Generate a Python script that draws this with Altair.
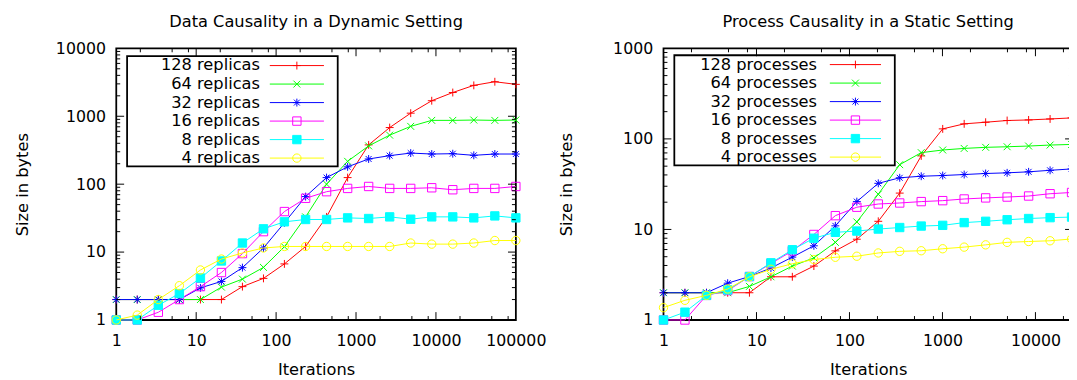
import altair as alt
import pandas as pd

FONT = "DejaVu Sans"

# ---------------- Data Causality in a Dynamic Setting ----------------
dyn_iterations = [1, 1.83, 3.36, 6.16, 11.3, 20.7, 37.9, 69.5, 127, 234, 428, 785,
                  1438, 2637, 4833, 8859, 16238, 29764, 54556, 100000]
dyn_names = ["128 replicas", "64 replicas", "32 replicas", "16 replicas", "8 replicas", "4 replicas"]
dyn_128 = [2, 2, 2, 2, 2, 2, 3.1, 4.1, 6.7, 12.1, 33, 125, 379, 682, 1111, 1693, 2236, 2851, 3224, 2951]
dyn_64 = [2, 2, 2, 2, 2, 3.05, 4.0, 5.95, 12.0, 33, 100, 217, 366, 527, 710, 870, 870, 880, 870, 880]
dyn_32 = [2, 2, 2, 2, 2.97, 3.7, 5.9, 11.5, 27, 65.6, 125, 180, 235, 263, 287, 278, 281, 266, 278, 278]
dyn_16 = [1, 1, 1.3, 2, 3.1, 5.0, 9.5, 20, 39.5, 62, 77.5, 86.6, 92.5, 86.6, 86.6, 88.5, 82.8, 86.6, 86.6, 92.5]
dyn_8 = [1, 1, 1.65, 2.45, 4.15, 7.4, 13.6, 22, 27.9, 30.2, 30.2, 31.9, 31.2, 33, 30.5, 33, 33, 31.9, 34.1, 31.9]
dyn_4 = [1, 1.18, 2, 3.2, 5.45, 7.9, 9.7, 11.5, 12.1, 12.1, 12.1, 12.1, 12.1, 12.1, 13.6, 13.1, 13.1, 13.6, 14.8, 14.8]

# ---------------- Process Causality in a Static Setting ----------------
sta_iterations = [1, 1.7, 2.9, 4.9, 8.4, 14.3, 24.3, 41.4, 70.5, 120, 204, 347,
                  591, 1006, 1712, 2914, 4960, 8443, 14370, 24460]
sta_names = ["128 processes", "64 processes", "32 processes", "16 processes", "8 processes", "4 processes"]
sta_128 = [2, 2, 2, 2, 2, 3, 3, 3.94, 5.8, 7.8, 12.3, 25.2, 64.9, 129, 146.6, 152.8, 159.6, 162, 166, 170.6]
sta_64 = [2, 2, 2, 2, 2.35, 3.0, 3.94, 4.85, 7.2, 12.1, 24.5, 51.9, 70.5, 75.4, 78.5, 80.7, 81.9, 83.4, 85.5, 86.9]
sta_32 = [2, 2, 2, 2.55, 3.02, 3.75, 4.95, 6.6, 10.96, 20.3, 32.3, 37.2, 38.7, 39.4, 40.4, 41.5, 42.2, 43.3, 45, 46.6]
sta_16 = [1, 1, 1.87, 2.11, 3.02, 4.2, 5.8, 8.8, 14.2, 17.6, 19.1, 19.6, 20.3, 20.8, 21.7, 22.3, 22.8, 23.4, 24.8, 25.6]
sta_8 = [1, 1.22, 1.87, 2.15, 3.02, 4.28, 5.97, 8.0, 9.3, 9.6, 10.1, 10.5, 10.9, 11.1, 11.9, 12.3, 12.8, 13.2, 13.5, 13.7]
sta_4 = [1.37, 1.65, 1.87, 2.2, 3.0, 3.63, 4.18, 4.65, 4.93, 5.06, 5.5, 5.73, 5.82, 6.12, 6.38, 6.76, 7.2, 7.36, 7.5, 7.85]

# axis tick labels
dyn_xticks = [1, 10, 100, 1000, 10000, 100000]
dyn_yticks = [1, 10, 100, 1000, 10000]
sta_xticks = [1, 10, 100, 1000, 10000]
sta_yticks = [1, 10, 100, 1000]

series_colors = ["#ff0000", "#00ff00", "#0000ff", "#ff00ff", "#00ffff", "#ffff00"]
series_fills = ["transparent", "transparent", "transparent", "transparent", "#00ffff", "transparent"]
marker_kinds = ["plus", "cross", "star", "square", "square", "circle"]
marker_half = [0.8, 0.7, 0.8, 0.85, 0.85, 0.85]   # in units of 5 px (size 100)

LEG_SIZE = 324
LEG_U = (LEG_SIZE ** 0.5) / 2.0


def num(v):
    s = ("%.4f" % v).rstrip("0").rstrip(".")
    return "0" if s in ("-0", "") else s


def marker(kind, s, cx=0.0):
    a, b = num(s), num(-s)
    xa, xb = num(cx + s), num(cx - s)
    c = num(cx)
    if kind == "plus":
        return f"M{xb},0H{xa}M{c},{b}V{a}"
    if kind == "cross":
        return f"M{xb},{b}L{xa},{a}M{xb},{a}L{xa},{b}"
    if kind == "star":
        d, e = num(s * 0.75), num(-s * 0.75)
        xd, xe = num(cx + s * 0.75), num(cx - s * 0.75)
        return f"M{xb},0H{xa}M{c},{b}V{a}M{xe},{e}L{xd},{d}M{xe},{d}L{xd},{e}"
    if kind == "square":
        return f"M{xb},{b}H{xa}V{a}H{xb}Z"
    return f"M{xa},0A{a},{a},0,1,1,{xb},0A{a},{a},0,1,1,{xa},0Z"


def legend_shape(kind, s, shift, half_line, far):
    cx = shift / LEG_U
    return (f"M{num((shift - half_line) / LEG_U)},0H{num((shift + half_line) / LEG_U)}"
            + marker(kind, s * 5.0 / LEG_U, cx) + f"M{num((shift + far) / LEG_U)},0")


def minor_list(lo, hi, mults):
    out = []
    d = 1
    while d < hi:
        for m in mults:
            v = m * d
            if lo < v < hi:
                out.append(v)
        d *= 10
    return out


def panel(iterations, names, series, xdom, ydom, xticks, yticks, W, H, title, ytitle_pad, leg):
    rows = []
    for name, vals in zip(names, series):
        for x, v in zip(iterations, vals):
            rows.append({"iterations": x, "size": v, "series": name})
    df = pd.DataFrame(rows)

    xs = alt.Scale(type="log", domain=xdom, nice=False)
    ys = alt.Scale(type="log", domain=ydom, nice=False)
    common = dict(format="d", ticks=False, domain=False, grid=False, labelFont=FONT,
                  labelFontSize=16, labelColor="black",
                  labelFlush=False, labelOverlap=False, titleFont=FONT,
                  titleFontSize=16.5, titleFontWeight="normal", titleColor="black")
    xaxis = alt.Axis(values=xticks, title="Iterations", labelPadding=13, titlePadding=13, **common)
    yaxis = alt.Axis(values=yticks, title="Size in bytes", labelPadding=11,
                     titlePadding=ytitle_pad, **common)
    X = alt.X("iterations:Q", scale=xs, axis=xaxis)
    Y = alt.Y("size:Q", scale=ys, axis=yaxis)

    layers = []
    # series drawn one after the other (line, then its markers), like gnuplot
    for name, col, fil, kind, s in zip(names, series_colors, series_fills, marker_kinds, marker_half):
        base = alt.Chart(df).transform_filter(alt.datum.series == name)
        layers.append(base.mark_line(color=col, strokeWidth=1).encode(x=X, y=Y))
        layers.append(base.mark_point(shape=marker(kind, s), filled=False, fill=fil, stroke=col,
                                      size=100, strokeWidth=1, opacity=1).encode(x=X, y=Y))

    # key: draws no marks itself, only supplies the legend (line sample + marker)
    lshapes = [legend_shape(k, s, leg["shift"], leg["half"], leg["far"])
               for k, s in zip(marker_kinds, marker_half)]
    legend = alt.Legend(
        title=None, orient="none", legendX=leg["x"], legendY=leg["y"], direction="vertical",
        padding=0, rowPadding=0.8, labelAlign="right", labelBaseline="middle",
        labelOffset=leg["labelOffset"], symbolOffset=0,
        symbolSize=LEG_SIZE, symbolStrokeWidth=1, symbolOpacity=1,
        symbolFillColor="white", symbolStrokeColor="black", labelFont=FONT,
        labelFontSize=16.5, labelColor="black", strokeColor="black",
    )
    key = alt.Chart(df).transform_filter("false").mark_point(
        filled=False, opacity=1, size=LEG_SIZE, strokeWidth=1).encode(
        x=X, y=Y,
        fill=alt.Fill("series:N", scale=alt.Scale(domain=names, range=series_fills), legend=legend),
        stroke=alt.Stroke("series:N", scale=alt.Scale(domain=names, range=series_colors), legend=legend),
        shape=alt.Shape("series:N", scale=alt.Scale(domain=names, range=lshapes), legend=legend),
    )
    layers.append(key)

    def xrule(vals, y0, y1):
        return alt.Chart(pd.DataFrame({"iterations": vals})).mark_rule(color="black", strokeWidth=1).encode(
            x=X, y=alt.value(y0), y2=alt.value(y1))

    def yrule(vals, x0, x1):
        return alt.Chart(pd.DataFrame({"size": vals})).mark_rule(color="black", strokeWidth=1).encode(
            y=Y, x=alt.value(x0), x2=alt.value(x1))

    xmaj = [v for v in xticks if xdom[0] < v < xdom[1]]
    ymaj = [v for v in yticks if ydom[0] < v < ydom[1]]
    xmin = minor_list(xdom[0], xdom[1], [2, 5, 8])
    ymin = minor_list(ydom[0], ydom[1], [2, 3, 4, 5, 6, 7, 8, 9])
    layers += [
        xrule(xmaj, H, H - 8), xrule(xmin, H, H - 4),
        xrule(xmaj, 0, 8), xrule(xmin, 0, 4),
        yrule(ymaj, 0, 8), yrule(ymin, 0, 4),
        yrule(ymaj, W, W - 8), yrule(ymin, W, W - 4),
    ]

    return alt.layer(*layers).properties(
        width=W, height=H,
        title=alt.TitleParams(text=title, font=FONT, fontSize=16.5, fontWeight="normal",
                              color="black", anchor="middle", frame="group", offset=-3,
                              baseline="alphabetic"),
    )


left = panel(dyn_iterations, dyn_names, [dyn_128, dyn_64, dyn_32, dyn_16, dyn_8, dyn_4],
             [1, 100000], [1, 10000], dyn_xticks, dyn_yticks, 406, 276,
             "Data Causality in a Dynamic Setting", 25.6,
             {"x": 11, "y": 8, "labelOffset": 116, "shift": 163, "half": 27.5, "far": 38.5})
right = panel(sta_iterations, sta_names, [sta_128, sta_64, sta_32, sta_16, sta_8, sta_4],
              [1, 25300], [1, 1000], sta_xticks, sta_yticks, 416, 276,
              "Process Causality in a Static Setting", 38.8,
              {"x": 11, "y": 7, "labelOffset": 126, "shift": 174.5, "half": 26, "far": 38})

chart = alt.hconcat(left, right, spacing=10).resolve_scale(
    x="independent", y="independent", fill="independent", stroke="independent", shape="independent"
).properties(
    padding={"left": 5, "top": 2, "right": -10, "bottom": 0},
    background="white",
).configure_view(stroke="black", strokeWidth=1.8).configure_legend(strokeWidth=1.8)

chart.save("out.html", embed_options={"renderer": "svg", "actions": False})
